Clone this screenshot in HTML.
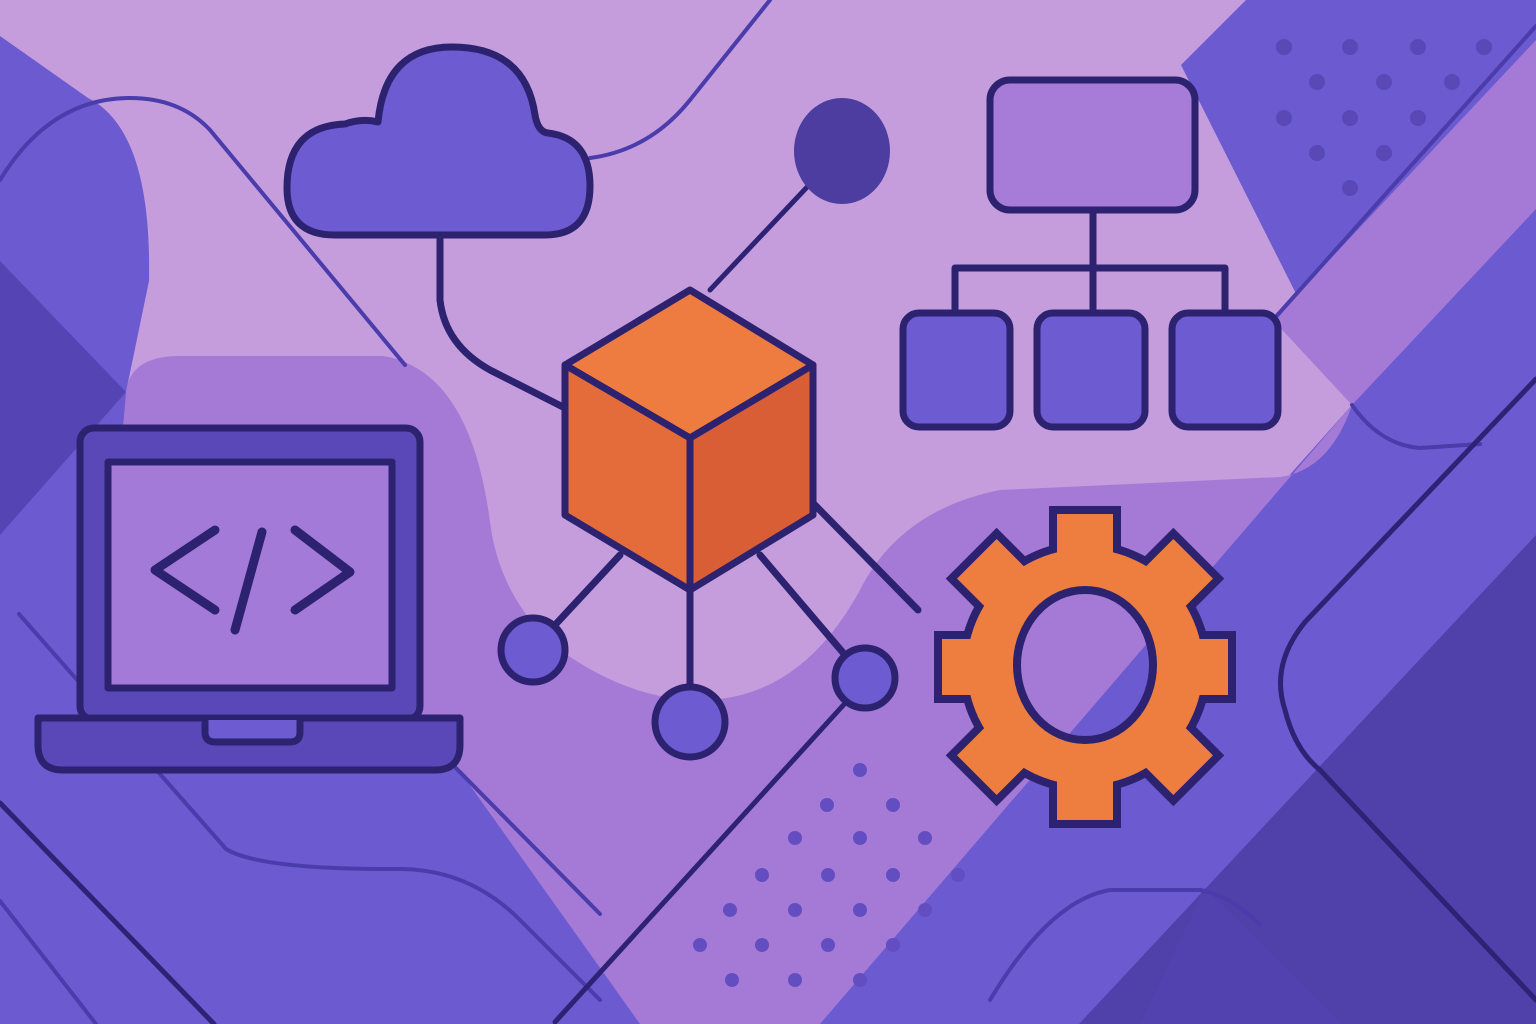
<!DOCTYPE html>
<html><head><meta charset="utf-8"><style>html,body{margin:0;padding:0;background:#c59ddd}svg{display:block}</style></head>
<body>
<svg width="1536" height="1024" viewBox="0 0 1536 1024" xmlns="http://www.w3.org/2000/svg">
<defs>
<mask id="gm"><rect x="0" y="0" width="1536" height="1024" fill="#fff"/><ellipse cx="1085" cy="665" rx="68" ry="75" fill="#000"/></mask>
</defs>
<rect width="1536" height="1024" fill="#6b5ad0"/>
<path d="M0,36 L0,0 L1246,0 L1181,65 L1352,405 L1000,800 L600,800 L126,392 L149,281 Q152,130 88,98 Z" fill="#c59ddd"/>
<path d="M126,392 Q130,356 180,356 L383,356 Q470,370 490,522 Q500,600 560,650 Q630,700 700,700 Q800,700 860,590 Q900,510 1000,490 L1280,477 Q1330,470 1352,405 L820,1024 L640,1024 L459,770 L100,700 Z" fill="#a57ad7"/>
<path d="M1273,320 L1536,40 L1536,209 L1352,405 Z" fill="#a57ad7"/>
<path d="M0,261 L126,392 L0,535 Z" fill="#5444b4"/>
<path d="M1536,535 L1079,1024 L1536,1024 Z" fill="#5040aa"/>
<path d="M1205,888 L1342,1024 L1140,1024 Z" fill="#5444b4" opacity="0.6"/>
<g fill="none" stroke="#4a3cab" stroke-width="4" stroke-linecap="round">
<path d="M0,180 Q50,98 130,98 Q180,98 210,130 L405,365"/>
<path d="M590,158 Q650,150 690,100 L770,0"/>
<path d="M19,614 L226,849 Q260,870 402,869 Q470,870 520,920 L600,1000"/>
<path d="M452,764 L600,914"/>
<path d="M0,901 L96,1024"/>
<path d="M1273,320 L1536,26"/>
<path d="M1352,405 Q1380,445 1420,448 L1480,444"/>
<path d="M990,1000 Q1050,900 1110,890 L1200,890 Q1230,895 1260,925"/>
</g>
<g fill="none" stroke="#2e2275" stroke-width="5" stroke-linecap="round">
<path d="M0,803 L214,1024"/>
<path d="M1536,379 L1305,622 Q1270,665 1285,710 Q1295,750 1320,770 L1536,1000"/>
<path d="M555,1022 L848,700"/>
<path d="M842,150 L710,290"/>
</g>
<g fill="#5a48b6">
<circle cx="1284" cy="47" r="8"/><circle cx="1350" cy="47" r="8"/><circle cx="1418" cy="47" r="8"/><circle cx="1484" cy="47" r="8"/>
<circle cx="1317" cy="82" r="8"/><circle cx="1384" cy="82" r="8"/><circle cx="1452" cy="82" r="8"/>
<circle cx="1284" cy="118" r="8"/><circle cx="1350" cy="118" r="8"/><circle cx="1418" cy="118" r="8"/>
<circle cx="1317" cy="153" r="8"/><circle cx="1384" cy="153" r="8"/>
<circle cx="1350" cy="188" r="8"/>
</g>
<g fill="#624ec0">
<circle cx="860" cy="770" r="7"/>
<circle cx="827" cy="805" r="7"/><circle cx="893" cy="805" r="7"/>
<circle cx="795" cy="838" r="7"/><circle cx="860" cy="838" r="7"/><circle cx="925" cy="838" r="7"/>
<circle cx="762" cy="875" r="7"/><circle cx="828" cy="875" r="7"/><circle cx="893" cy="875" r="7"/><circle cx="958" cy="875" r="7"/>
<circle cx="730" cy="910" r="7"/><circle cx="795" cy="910" r="7"/><circle cx="860" cy="910" r="7"/><circle cx="925" cy="910" r="7"/>
<circle cx="700" cy="945" r="7"/><circle cx="762" cy="945" r="7"/><circle cx="828" cy="945" r="7"/><circle cx="893" cy="945" r="7"/>
<circle cx="732" cy="980" r="7"/><circle cx="795" cy="980" r="7"/><circle cx="860" cy="980" r="7"/>
</g>
<g stroke="#2c2270" stroke-width="7" stroke-linejoin="round" stroke-linecap="round">
<path d="M335,235 Q287,235 287,188 Q287,126 345,124 Q362,118 378,122 Q385,47 452,47 Q525,47 535,115 Q538,132 548,133 Q590,138 590,186 Q590,235 545,235 Z" fill="#6c5bd1"/>
<path d="M440,235 L440,300 Q445,345 490,370 L565,408" fill="none"/>
<ellipse cx="842" cy="151" rx="48" ry="53" fill="#4d3da0" stroke="none"/>
<path d="M810,500 L918,610 M620,555 L555,625 M690,590 L690,690 M760,555 L845,655" fill="none"/>
<path d="M690,290 L813,365 L690,438 L565,365 Z" fill="#ee7b3f"/>
<path d="M565,365 L690,438 L690,590 L565,515 Z" fill="#e46c3a"/>
<path d="M813,365 L690,438 L690,590 L813,515 Z" fill="#d95e35"/>
<circle cx="533" cy="650" r="32" fill="#6c5bd1"/>
<circle cx="690" cy="722" r="35" fill="#6c5bd1"/>
<circle cx="865" cy="678" r="30" fill="#6c5bd1"/>
<rect x="80" y="428" width="340" height="292" rx="14" fill="#5a48b8"/>
<rect x="108" y="462" width="284" height="226" fill="#a47ad8"/>
<path d="M38,718 L460,718 L460,745 Q460,770 435,770 L63,770 Q38,770 38,745 Z" fill="#5a48b8"/>
<path d="M205,720 L205,732 Q205,742 215,742 L290,742 Q300,742 300,732 L300,720" fill="#6c5bd1"/>
<g fill="none" stroke-width="9">
<path d="M215,530 L155,570 L215,610"/>
<path d="M262,532 L235,630"/>
<path d="M295,530 L350,572 L295,610"/>
</g>
<path d="M1093,210 L1093,310 M955,315 L955,268 L1225,268 L1225,315" fill="none"/>
<rect x="990" y="80" width="205" height="130" rx="20" fill="#a77bd8"/>
<rect x="903" y="313" width="107" height="114" rx="16" fill="#6c5bd1"/>
<rect x="1037" y="313" width="108" height="114" rx="16" fill="#6c5bd1"/>
<rect x="1172" y="313" width="106" height="114" rx="16" fill="#6c5bd1"/>
</g>
<g mask="url(#gm)">
<g transform="translate(1085,667)" fill="#2c2270">
<circle r="126"/>
<g><rect x="-36" y="-161" width="72" height="60"/></g>
<g transform="rotate(45)"><rect x="-36" y="-161" width="72" height="60"/></g>
<g transform="rotate(90)"><rect x="-36" y="-151" width="72" height="60"/></g>
<g transform="rotate(135)"><rect x="-36" y="-161" width="72" height="60"/></g>
<g transform="rotate(180)"><rect x="-36" y="-161" width="72" height="60"/></g>
<g transform="rotate(225)"><rect x="-36" y="-161" width="72" height="60"/></g>
<g transform="rotate(270)"><rect x="-36" y="-151" width="72" height="60"/></g>
<g transform="rotate(315)"><rect x="-36" y="-161" width="72" height="60"/></g>
</g>
<g transform="translate(1085,667)" fill="#ee7d40">
<circle r="118"/>
<g><rect x="-28" y="-153" width="56" height="60"/></g>
<g transform="rotate(45)"><rect x="-28" y="-153" width="56" height="60"/></g>
<g transform="rotate(90)"><rect x="-28" y="-143" width="56" height="60"/></g>
<g transform="rotate(135)"><rect x="-28" y="-153" width="56" height="60"/></g>
<g transform="rotate(180)"><rect x="-28" y="-153" width="56" height="60"/></g>
<g transform="rotate(225)"><rect x="-28" y="-153" width="56" height="60"/></g>
<g transform="rotate(270)"><rect x="-28" y="-143" width="56" height="60"/></g>
<g transform="rotate(315)"><rect x="-28" y="-153" width="56" height="60"/></g>
</g>
</g>
<ellipse cx="1085" cy="665" rx="68" ry="75" fill="none" stroke="#2c2270" stroke-width="8"/>
</svg>
</body></html>
